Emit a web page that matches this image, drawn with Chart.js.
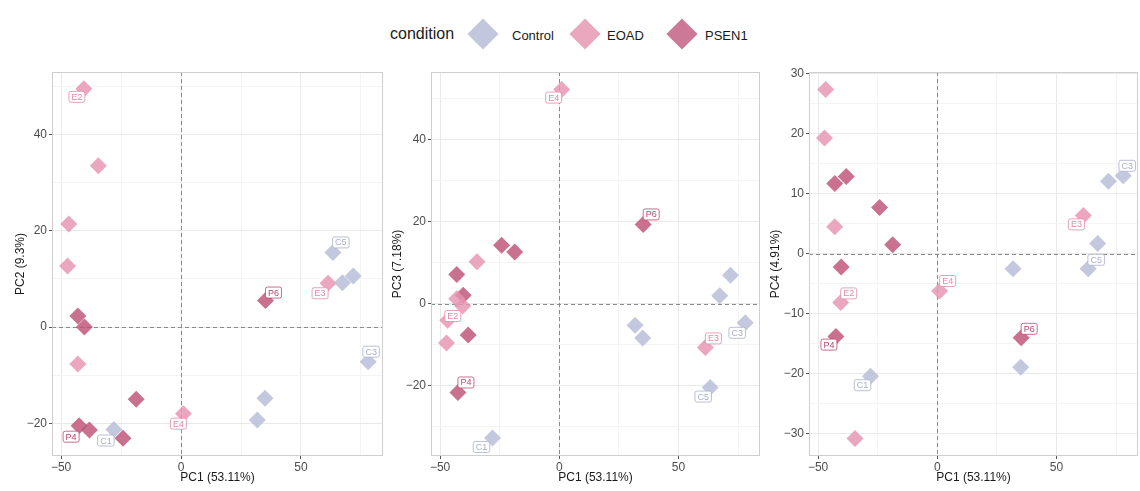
<!DOCTYPE html>
<html>
<head>
<meta charset="utf-8">
<script src="https://cdn.jsdelivr.net/npm/chart.js@4"></script>
<style>
  body { margin: 0; background: #fff; font-family: "Liberation Sans", Arial, sans-serif; }
  #wrap { position: relative; width: 1140px; height: 491px; overflow: hidden; }
  .panel { position: absolute; top: 60px; }
  .legend-title { position: absolute; left: 390px; top: 25px; font-size: 16px; color: #1a1a1a; }
  .legend-key { position: absolute; width: 22px; height: 22px; transform: rotate(45deg); }
  .legend-text { position: absolute; top: 28px; font-size: 13px; color: #1a1a1a; }
</style>
</head>
<body>
<div id="wrap">
  <span class="legend-title">condition</span>
  <span class="legend-key" style="left:472px;top:23px;background:#c3c7dd"></span>
  <span class="legend-text" style="left:512px">Control</span>
  <span class="legend-key" style="left:574px;top:23px;background:#eaa8bf"></span>
  <span class="legend-text" style="left:607px">EOAD</span>
  <span class="legend-key" style="left:671px;top:23px;background:#cc7896"></span>
  <span class="legend-text" style="left:705px">PSEN1</span>

  <div class="panel" style="left:0px"><canvas id="pc2" width="386" height="431"></canvas></div>
  <div class="panel" style="left:386px"><canvas id="pc3" width="377" height="431"></canvas></div>
  <div class="panel" style="left:763px"><canvas id="pc4" width="377" height="431"></canvas></div>
</div>

<script>
// sample scores per condition (same sample order in every array of a group)
const labelControl = ['C1', 'C3', 'C5', '', '', '', ''];
const pc1Control = [-28.0, 78.0, 63.3, 35.0, 31.8, 67.3, 71.8];
const pc2Control = [-21.3, -7.2, 15.5, -14.8, -19.3, 9.2, 10.6];
const pc3Control = [-32.8, -4.7, -20.5, -8.4, -5.3, 1.9, 6.9];
const pc4Control = [-20.4, 13.0, -2.5, -18.9, -2.5, 1.7, 12.1];

const labelEOAD = ['E2', 'E3', 'E4', '', '', '', ''];
const pc1EOAD = [-40.5, 61.3, 1.0, -34.5, -46.8, -47.3, -43.0];
const pc2EOAD = [49.5, 9.1, -18.0, 33.5, 21.4, 12.7, -7.7];
const pc3EOAD = [-0.6, -10.7, 52.2, 10.2, -4.1, -9.6, 1.2];
const pc4EOAD = [-8.1, 6.4, -6.2, -30.8, 27.4, 19.3, 4.5];

const labelPSEN1 = ['P4', 'P6', '', '', '', '', ''];
const pc1PSEN1 = [-42.5, 35.2, -43.0, -40.3, -38.2, -24.2, -18.7];
const pc2PSEN1 = [-20.5, 5.5, 2.3, 0.0, -21.4, -23.1, -15.0];
const pc3PSEN1 = [-21.7, 19.3, 7.1, 2.0, -7.7, 14.2, 12.6];
const pc4PSEN1 = [-13.8, -14.0, 11.7, -2.2, 12.9, 7.7, 1.5];

const conditions = ['Control', 'EOAD', 'PSEN1'];
const pc1Ticks = [-50, -25, 0, 25, 50, 75];
const pc1Major = [-50, 0, 50];

// colours per condition: point fill, label text/border
const pointColors = ['rgba(182,188,215,0.82)', 'rgba(230,148,177,0.82)', 'rgba(189,82,118,0.82)'];
const labelColors = ['#a7aecd', '#e08aa9', '#bd4673'];

// label offsets (px) from the point, per panel
const labelShift = {
  pc2: { E2: [-7, 8], C5: [8, -10], P6: [8, -8], E3: [-8, 10], C3: [3, -10], E4: [-5, 10], P4: [-8, 11], C1: [-8, 11] },
  pc3: { E4: [-8, 8], P6: [8, -10], E2: [-10, 10], E3: [8, -9], C3: [-8, 10], P4: [8, -10], C5: [-7, 9], C1: [-11, 9] },
  pc4: { C3: [4, -10], E3: [-7, 9], C5: [8, -9], E4: [8, -10], E2: [8, -9], P6: [8, -9], P4: [-7, 8], C1: [-8, 9] }
};

const groupLabels = [labelControl, labelEOAD, labelPSEN1];
const groupPC1 = [pc1Control, pc1EOAD, pc1PSEN1];

function fmt(v) {
  return v < 0 ? '\u2212' + Math.abs(v) : String(v);
}

// dashed zero lines, panel border and sample labels
const pcaDecor = {
  id: 'pcaDecor',
  beforeDatasetsDraw(chart) {
    const { ctx, chartArea: a, scales: { x, y } } = chart;
    ctx.save();
    ctx.strokeStyle = '#8a8a8a';
    ctx.lineWidth = 1;
    ctx.setLineDash([4, 3]);
    const x0 = Math.round(x.getPixelForValue(0)) + 0.5;
    const y0 = Math.round(y.getPixelForValue(0)) + 0.5;
    ctx.beginPath();
    ctx.moveTo(x0, a.top); ctx.lineTo(x0, a.bottom);
    ctx.moveTo(a.left, y0); ctx.lineTo(a.right, y0);
    ctx.stroke();
    ctx.restore();
  },
  afterDatasetsDraw(chart, args, opts) {
    const { ctx, chartArea: a } = chart;
    const shift = labelShift[opts.panel];
    ctx.save();
    ctx.font = '9px "Liberation Sans", Arial, sans-serif';
    ctx.textAlign = 'center';
    ctx.textBaseline = 'middle';
    chart.data.datasets.forEach((ds, di) => {
      const meta = chart.getDatasetMeta(di);
      groupLabels[di].forEach((name, i) => {
        if (!name || !shift[name]) return;
        const pt = meta.data[i];
        const cx = pt.x + shift[name][0];
        const cy = pt.y + shift[name][1];
        const w = ctx.measureText(name).width + 5;
        const h = 11;
        ctx.beginPath();
        ctx.roundRect(cx - w / 2, cy - h / 2, w, h, 2);
        ctx.fillStyle = '#fff';
        ctx.fill();
        ctx.strokeStyle = labelColors[di];
        ctx.lineWidth = 0.8;
        ctx.stroke();
        ctx.fillStyle = labelColors[di];
        ctx.fillText(name, cx, cy + 0.5);
      });
    });
    ctx.strokeStyle = '#cfcfcf';
    ctx.lineWidth = 1;
    ctx.strokeRect(a.left + 0.5, a.top + 0.5, a.right - a.left - 1, a.bottom - a.top - 1);
    ctx.restore();
  }
};

function makePanel(id, yValues, yTitle, yMin, yMax, yTicks, yMajor, yWidth, padRight, titlePad) {
  const datasets = conditions.map((c, g) => ({
    label: c,
    data: groupPC1[g].map((v, i) => ({ x: v, y: yValues[g][i] })),
    pointStyle: 'rectRot',
    pointRadius: 8.5,
    pointHoverRadius: 8.5,
    pointBorderWidth: 0,
    backgroundColor: pointColors[g],
    borderColor: pointColors[g]
  }));

  const gridColor = (major) => (ctx) => {
    const v = ctx.tick ? ctx.tick.value : null;
    return major.includes(v) ? '#e9e9e9' : '#f4f4f4';
  };
  const tickColor = (major) => (ctx) => {
    const v = ctx.tick ? ctx.tick.value : null;
    return major.includes(v) ? '#555' : 'rgba(0,0,0,0)';
  };

  new Chart(document.getElementById(id), {
    type: 'scatter',
    data: { datasets },
    plugins: [pcaDecor],
    options: {
      responsive: false,
      animation: false,
      layout: { autoPadding: false, padding: { left: 0, right: padRight, top: 12, bottom: 0 } },
      plugins: {
        legend: { display: false },
        tooltip: { enabled: false },
        pcaDecor: { panel: id }
      },
      scales: {
        x: {
          type: 'linear',
          min: -53.8,
          max: 84.2,
          afterBuildTicks: (s) => { s.ticks = pc1Ticks.map(v => ({ value: v })); },
          afterFit: (s) => { s.height = 35; },
          border: { display: false },
          grid: { color: gridColor(pc1Major), tickColor: tickColor(pc1Major), tickLength: 3 },
          ticks: {
            padding: 1,
            color: '#4d4d4d',
            font: { size: 12, family: '"Liberation Sans", Arial, sans-serif' },
            maxRotation: 0,
            autoSkip: false,
            callback: (v) => pc1Major.includes(v) ? fmt(v) : ''
          },
          title: {
            display: true,
            text: 'PC1 (53.11%)',
            color: '#1a1a1a',
            padding: { top: 0, bottom: 6 },
            font: { size: 12, family: '"Liberation Sans", Arial, sans-serif' }
          }
        },
        y: {
          type: 'linear',
          min: yMin,
          max: yMax,
          afterBuildTicks: (s) => { s.ticks = yTicks.map(v => ({ value: v })); },
          afterFit: (s) => { s.width = yWidth; },
          border: { display: false },
          grid: { color: gridColor(yMajor), tickColor: tickColor(yMajor), tickLength: 3 },
          ticks: {
            padding: 2,
            color: '#4d4d4d',
            font: { size: 12, family: '"Liberation Sans", Arial, sans-serif' },
            autoSkip: false,
            callback: (v) => yMajor.includes(v) ? fmt(v) : ''
          },
          title: {
            display: true,
            text: yTitle,
            color: '#1a1a1a',
            padding: { top: titlePad, bottom: 0 },
            font: { size: 12, family: '"Liberation Sans", Arial, sans-serif' }
          }
        }
      }
    }
  });
}

makePanel('pc2', [pc2Control, pc2EOAD, pc2PSEN1], 'PC2 (9.3%)', -26.8, 53.0,
  [-20, -10, 0, 10, 20, 30, 40, 50], [-20, 0, 20, 40], 52, 3, 13);
makePanel('pc3', [pc3Control, pc3EOAD, pc3PSEN1], 'PC3 (7.18%)', -37.2, 56.5,
  [-30, -20, -10, 0, 10, 20, 30, 40, 50], [-20, 0, 20, 40], 45, 3, 4);
makePanel('pc4', [pc4Control, pc4EOAD, pc4PSEN1], 'PC4 (4.91%)', -33.7, 30.3,
  [-30, -25, -20, -15, -10, -5, 0, 5, 10, 15, 20, 25, 30], [-30, -20, -10, 0, 10, 20, 30], 46, 2, 5);
</script>
</body>
</html>
